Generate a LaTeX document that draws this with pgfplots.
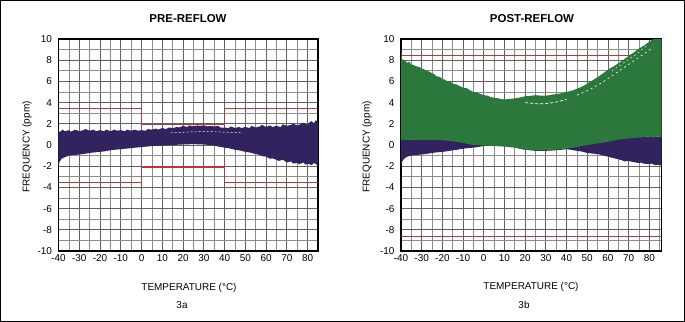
\documentclass[border=0pt]{standalone}
\usepackage{pgfplots}
\pgfplotsset{compat=1.18}
\usepackage{fontspec}
\setmainfont{Liberation Sans}
\definecolor{bandpurple}{RGB}{50,34,96}
\definecolor{bandgreen}{RGB}{44,120,60}
\definecolor{specred}{RGB}{178,60,50}
\pgfplotsset{
  tcaxis/.style={
    scale only axis,
    height=212bp,
    ymin=-10, ymax=10,
    xmin=-40,
    xtick={-40,-30,...,80},
    minor xtick={-35,-25,...,85},
    ytick={-10,-8,...,10},
    minor ytick={-9,-7,...,9},
    grid=both,
    major grid style={draw=black!62, line width=0.75bp},
    minor grid style={draw=black!45, line width=0.75bp},
    major tick length=0pt, minor tick length=0pt,
    axis line style={line width=1.2bp, black},
    /pgf/number format/assume math mode=true,
    tick label style={font=\fontsize{10}{11}\selectfont},
    yticklabel style={xshift=-3bp},
    clip=true,
  }
}
\begin{document}
\begin{tikzpicture}
\path[use as bounding box] (0,0) rectangle (685bp,322bp);
\draw[line width=1bp] (0.5bp,0.5bp) rectangle (684.5bp,321.5bp);

% ---------- 3a PRE-REFLOW ----------
\begin{axis}[tcaxis, at={(58.5bp,71bp)}, anchor=south west, width=259.5bp, xmax=85]
\addplot[specred, line width=1.4bp] coordinates {(-40,3.45)(0,3.45)(0,1.94)(40,1.94)(40,3.45)(85,3.45)};
\addplot[specred, line width=1.4bp] coordinates {(-40,-3.55)(0,-3.55)(0,-2.06)(40,-2.06)(40,-3.55)(85,-3.55)};
\addplot[fill=bandpurple, draw=none] coordinates {
(-40,1.5)(-39.5,1.2)(-38,1.45)(-37,1.3)(-35,1.4)(-34,1.25)(-32,1.45)(-30,1.3)(-28,1.4)(-27,1.5)(-25,1.35)(-23,1.45)(-22,1.3)(-20,1.4)(-18,1.3)(-17,1.45)(-15,1.3)(-13,1.45)(-12,1.35)(-10,1.4)(-8,1.3)(-7,1.45)(-5,1.35)(-3,1.45)(-2,1.35)(0,1.4)(2,1.35)(3,1.5)(5,1.45)(7,1.55)(8,1.45)(10,1.6)(12,1.5)(13,1.65)(15,1.6)(17,1.7)(18,1.65)(20,1.8)(22,1.7)(23,1.85)(25,1.75)(27,1.85)(28,1.8)(30,1.85)(32,1.75)(33,1.8)(35,1.75)(37,1.8)(38,1.65)(40,1.65)(42,1.6)(43,1.75)(45,1.6)(47,1.7)(48,1.6)(50,1.7)(52,1.6)(53,1.8)(55,1.65)(57,1.75)(58,1.9)(60,1.7)(62,1.85)(63,1.7)(65,1.8)(67,1.7)(68,1.95)(70,1.8)(72,1.9)(73,2.0)(75,1.85)(77,2.0)(78,2.1)(80,1.9)(81,2.15)(82,2.25)(83,2.05)(84,2.35)(85,2.1)
(85,-1.95)(84,-1.8)(83,-1.7)(82,-1.9)(80,-1.75)(79,-1.85)(78,-1.65)(76,-1.8)(75,-1.7)(73,-1.75)(72,-1.55)(70,-1.65)(69,-1.5)(68,-1.4)(66,-1.5)(65,-1.4)(63,-1.25)(62,-1.3)(60,-1.1)(58,-1.05)(57,-0.95)(55,-0.85)(52,-0.7)(50,-0.65)(47,-0.5)(45,-0.45)(42,-0.3)(40,-0.25)(37,-0.15)(35,-0.05)(30,0.05)(25,0.08)(20,0.05)(15,0.0)(10,-0.05)(5,-0.1)(0,-0.2)(-3,-0.25)(-5,-0.3)(-8,-0.35)(-10,-0.4)(-13,-0.45)(-15,-0.5)(-18,-0.6)(-20,-0.65)(-23,-0.7)(-25,-0.75)(-28,-0.85)(-30,-0.9)(-33,-0.95)(-35,-1.0)(-37,-1.15)(-38.5,-1.3)(-39.5,-1.6)(-40,-1.9)
} -- cycle;
\addplot[white, line width=0.5bp, dash pattern=on 2bp off 2bp] coordinates {(14,1.15)(20,1.2)(27,1.25)(35,1.25)(42,1.2)(48,1.15)};
\end{axis}
\node[font=\fontsize{11.5}{13}\selectfont\bfseries] at (188bp,303bp) {PRE-REFLOW};
\node[font=\fontsize{10}{12}\selectfont] at (189bp,34bp) {TEMPERATURE (°C)};
\node[font=\fontsize{10}{12}\selectfont] at (182bp,17bp) {3a};
\node[font=\fontsize{10}{12}\selectfont, rotate=90] at (27bp,175bp) {FREQUENCY (ppm)};

% ---------- 3b POST-REFLOW ----------
\begin{axis}[tcaxis, at={(401bp,71bp)}, anchor=south west, width=260.7bp, xmax=86]
\addplot[specred, line width=1.3bp] coordinates {(-40,8.45)(86,8.45)};
\addplot[specred, line width=1.3bp] coordinates {(-40,-8.6)(86,-8.6)};
\addplot[fill=bandpurple, draw=none] coordinates {
(-40,0.55)(-37,0.45)(-34,0.55)(-30,0.5)(-26,0.55)(-22,0.45)(-18,0.5)(-14,0.45)(-10,0.4)(-5,0.3)(0,0.3)(10,0.3)(20,0.3)(30,0.3)(40,0.4)(50,0.5)(60,0.6)(70,0.7)(80,0.8)(86,0.8)
(86,-2.0)(85,-1.85)(83,-1.9)(81,-1.75)(80,-1.8)(77,-1.75)(76,-1.65)(75,-1.7)(72,-1.6)(70,-1.5)(68,-1.55)(67,-1.45)(65,-1.35)(62,-1.2)(60,-1.1)(57,-0.95)(55,-0.85)(52,-0.8)(50,-0.75)(47,-0.6)(45,-0.55)(42,-0.45)(40,-0.4)(35,-0.5)(30,-0.55)(25,-0.55)(20,-0.45)(17,-0.3)(15,-0.2)(12,-0.05)(10,0)(5,-0.05)(0,-0.1)(-3,-0.2)(-5,-0.25)(-8,-0.3)(-10,-0.35)(-13,-0.45)(-15,-0.5)(-18,-0.6)(-20,-0.65)(-23,-0.7)(-25,-0.75)(-28,-0.85)(-30,-0.9)(-33,-0.95)(-35,-1.0)(-37,-1.1)(-38.5,-1.3)(-39.5,-1.6)(-40,-1.9)
} -- cycle;
\addplot[fill=bandgreen, draw=none] coordinates {
(-40,9.3)(-39.5,8.1)(-38,7.95)(-37,7.75)(-36,7.85)(-35,7.6)(-34,7.55)(-33,7.45)(-31,7.35)(-30,7.2)(-29,7.15)(-28,7.05)(-26,6.9)(-25,6.75)(-24,6.7)(-23,6.5)(-21,6.4)(-20,6.2)(-19,6.2)(-18,6.05)(-16,5.95)(-15,5.8)(-13,5.7)(-12,5.6)(-10,5.4)(-8,5.35)(-7,5.2)(-5,5.0)(-3,4.95)(-2,4.85)(0,4.7)(2,4.65)(3,4.55)(5,4.45)(7,4.4)(8,4.35)(10,4.3)(13,4.35)(15,4.4)(18,4.5)(20,4.6)(23,4.65)(25,4.7)(28,4.65)(30,4.65)(33,4.75)(35,4.8)(38,4.9)(40,5.0)(43,5.15)(45,5.3)(48,5.55)(50,5.8)(53,6.15)(55,6.4)(58,6.8)(60,7.1)(63,7.45)(65,7.7)(68,8.1)(70,8.4)(73,8.8)(75,9.1)(78,9.45)(80,9.75)(82,10)(86,10)
(86,0.75)(84,0.8)(82,0.7)(80,0.8)(77,0.75)(75,0.7)(72,0.65)(70,0.6)(67,0.55)(65,0.5)(62,0.4)(60,0.3)(57,0.2)(55,0.15)(52,0.05)(50,0.0)(47,-0.1)(45,-0.2)(42,-0.3)(40,-0.35)(37,-0.4)(35,-0.45)(30,-0.5)(25,-0.5)(20,-0.45)(17,-0.35)(15,-0.25)(12,-0.2)(10,-0.15)(5,-0.1)(0,-0.05)(-5,0.0)(-8,0.1)(-10,0.2)(-13,0.3)(-15,0.35)(-20,0.45)(-25,0.5)(-28,0.45)(-30,0.5)(-33,0.45)(-36,0.5)(-38,0.45)(-40,0.5)
} -- cycle;
\addplot[white, line width=0.7bp, dash pattern=on 3bp off 2bp] coordinates {(20,4.0)(25,3.9)(30,3.9)(35,4.05)(40,4.3)};
\addplot[white, line width=0.6bp, dash pattern=on 2bp off 3bp] coordinates {(45,4.7)(52,5.3)(58,6.0)(64,6.8)(70,7.6)(76,8.4)(81,9.1)};
\addplot[white, line width=0.5bp, dash pattern=on 1.5bp off 3bp] coordinates {(62,7.0)(68,7.8)(74,8.6)(79,9.4)};
\end{axis}
\node[font=\fontsize{11.5}{13}\selectfont\bfseries] at (532bp,303bp) {POST-REFLOW};
\node[font=\fontsize{10}{12}\selectfont] at (531bp,35bp) {TEMPERATURE (°C)};
\node[font=\fontsize{10}{12}\selectfont] at (524bp,17bp) {3b};
\node[font=\fontsize{10}{12}\selectfont, rotate=90] at (367bp,175bp) {FREQUENCY (ppm)};
\end{tikzpicture}
\end{document}
